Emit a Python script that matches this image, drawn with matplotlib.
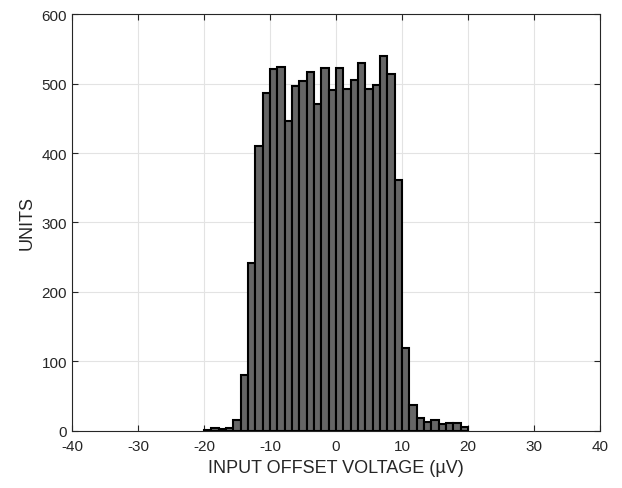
import numpy as np
import matplotlib
matplotlib.use("Agg")
import matplotlib.pyplot as plt

plt.rcParams['font.family'] = ['Liberation Sans', 'DejaVu Sans']
plt.rcParams['axes.unicode_minus'] = False

# histogram: 36 bins from -20 to 20 uV
bin_lo = -20
bin_hi = 20
counts = [1, 5, 3, 5, 16, 81, 241, 410, 486, 521, 524, 446, 496, 504, 517, 470,
          523, 491, 523, 492, 505, 529, 492, 498, 540, 514, 361, 120, 37, 18,
          13, 16, 10, 12, 11, 6]
xticks = [-40, -30, -20, -10, 0, 10, 20, 30, 40]
yticks = [0, 100, 200, 300, 400, 500, 600]

edges = np.linspace(bin_lo, bin_hi, len(counts) + 1)

fig = plt.figure(figsize=(6.22, 4.89), dpi=100)
ax = fig.add_axes([0.1158, 0.1166, 0.8488, 0.8527])

ax.bar(edges[:-1], counts, width=np.diff(edges), align='edge',
       color='#666666', edgecolor='black', linewidth=1.5, zorder=3)

ax.set_xlim(-40, 40)
ax.set_ylim(0, 600)
ax.set_xticks(xticks)
ax.set_yticks(yticks)
ax.grid(True, color='#e3e3e3', linewidth=0.8, zorder=0)
ax.set_axisbelow(True)

for s in ax.spines.values():
    s.set_color('#262626')
    s.set_linewidth(0.8)
ax.tick_params(direction='in', length=4, width=0.8, colors='#262626',
               labelsize=11, top=True, right=True)
ax.tick_params(axis='x', pad=6)

ax.set_xlabel('INPUT OFFSET VOLTAGE (µV)', fontsize=13, color='#262626')
ax.set_ylabel('UNITS', fontsize=13, color='#262626')

fig.savefig('out.png', dpi=100)
